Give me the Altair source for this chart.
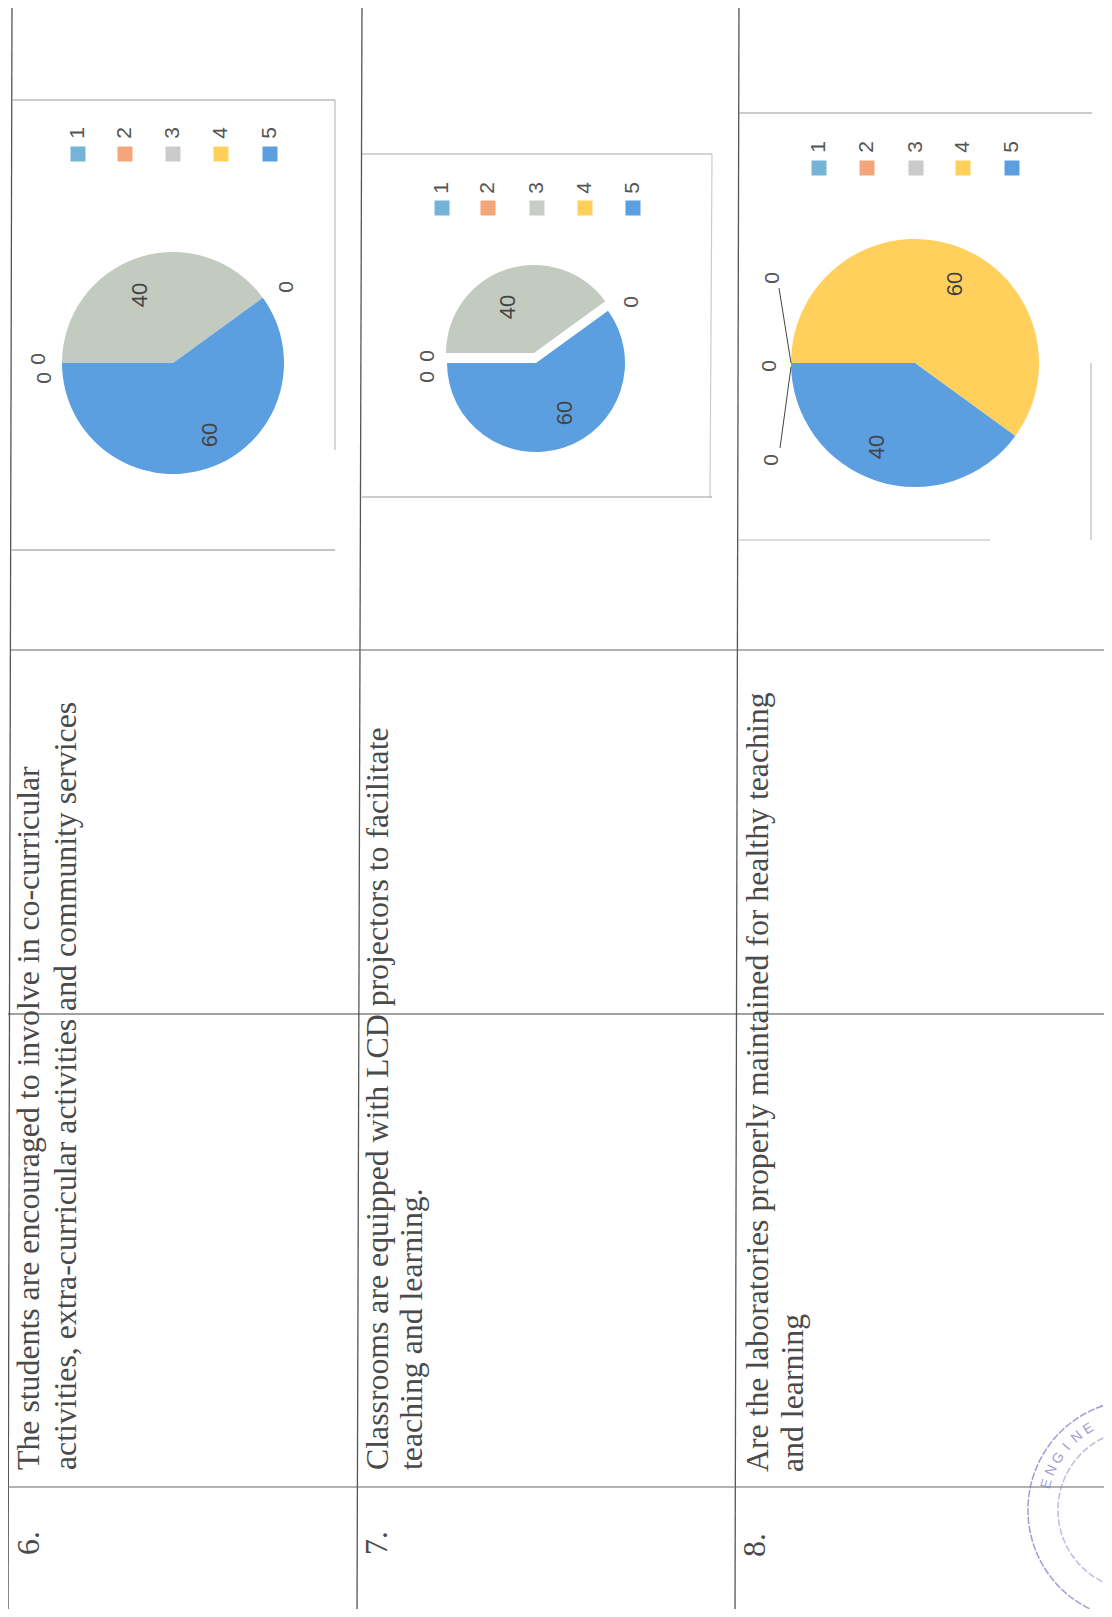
import math
import altair as alt
import pandas as pd

categories = ["1", "2", "3", "4", "5"]
legend_colors = ["#74B4D8", "#F4A57A", "#C9CCC9", "#FFD05A", "#5B9FE0"]
pie_colors = ["#74B4D8", "#F4A57A", "#C3CABF", "#FFD05C", "#5C9FE0"]
q6_values = [0, 0, 40, 0, 60]
q7_values = [0, 0, 40, 0, 60]
q8_values = [0, 0, 0, 60, 40]

q6_lines = ["The students are encouraged to involve in co-curricular",
            "activities, extra-curricular activities and community services"]
q7_lines = ["Classrooms are equipped with LCD projectors to facilitate",
            "teaching and learning."]
q8_lines = ["Are the laboratories properly maintained for healthy teaching",
            "and learning"]

M = 8  # page margin
one = alt.Data(values=[{"a": 1}])
layers = []


def line(x1, y1, x2, y2, color="#555555", w=1.2, **kw):
    layers.append(alt.Chart(one).mark_rule(color=color, strokeWidth=w, **kw).encode(
        x=alt.value(x1 - M), x2=alt.value(x2 - M),
        y=alt.value(y1 - M), y2=alt.value(y2 - M)))


def label(text, x, y, size=21, color="#555555", font="Liberation Sans",
          angle=270, align="center", baseline="middle", opacity=1.0):
    layers.append(alt.Chart(one).mark_text(
        text=text, font=font, fontSize=size, color=color, angle=angle,
        align=align, baseline=baseline, opacity=opacity).encode(
        x=alt.value(x - M), y=alt.value(y - M)))


def body(lines, xs, y, size):
    for t, x in zip(lines, xs):
        label(t, x, y, size=size, color="#4a4a4a", font="Liberation Serif",
              align="left", baseline="alphabetic")


def pie(values, cx, cy, r, only=None):
    df = pd.DataFrame({"category": categories, "value": values})
    theta = alt.Theta("value:Q", stack=True,
                      scale=alt.Scale(domain=[0, 100],
                                      range=[1.5 * math.pi, 3.5 * math.pi]))
    color = alt.Color("category:N", legend=None,
                      scale=alt.Scale(domain=categories, range=pie_colors))
    ch = alt.Chart(df).mark_arc(radius=r).encode(
        theta=theta, color=color, order=alt.Order("category:O"),
        x=alt.value(cx - M), y=alt.value(cy - M))
    if only is not None:
        ch = ch.encode(opacity=alt.condition(alt.datum.category == only,
                                             alt.value(1), alt.value(0)))
    layers.append(ch)


def legend(xs, swatch_y, label_y):
    for c, col, x in zip(categories, legend_colors, xs):
        layers.append(alt.Chart(one).mark_rect(fill=col).encode(
            x=alt.value(x - 7.5 - M), x2=alt.value(x + 7.5 - M),
            y=alt.value(swatch_y - 7.5 - M), y2=alt.value(swatch_y + 7.5 - M)))
        label(c, x, label_y)


# Table rules
line(12, 0, 8, 1617, w=1.3)
line(362, 0, 357, 1617, w=1.3)
line(739, 0, 735, 1617, w=1.3)
line(10, 650, 1112, 650, color="#666666")
line(0, 1014, 1112, 1014, color="#444444")
line(8, 1487, 1112, 1487, color="#666666")

# Chart frames
line(12, 100, 335, 100, color="#999999")
line(335, 100, 335, 450, color="#bbbbbb")
line(12, 550, 335, 550, color="#888888")
line(362, 154, 712, 154, color="#aaaaaa")
line(712, 154, 710, 497, color="#cccccc")
line(362, 497, 712, 497, color="#999999")
line(739, 113, 1092, 113, color="#999999")
line(1091, 363, 1091, 540, color="#bbbbbb")
line(739, 540, 990, 540, color="#bbbbbb")

# Question 6
pie(q6_values, 173, 363, 111)
legend([78, 125, 173, 221, 270], 154, 133)
label(str(q6_values[2]), 140, 295, size=22, color="#444444")
label(str(q6_values[4]), 210, 435, size=22, color="#444444")
label(str(q6_values[3]), 287, 287)
label(str(q6_values[0]), 39, 359)
label(str(q6_values[1]), 45, 378)

# Question 7 (exploded)
pie(q7_values, 534, 353, 88, only="3")
pie(q7_values, 536, 363, 89, only="5")
legend([442, 488, 537, 585, 633], 208, 188)
label(str(q7_values[2]), 508, 307, size=22, color="#444444")
label(str(q7_values[4]), 565, 413, size=22, color="#444444")
label(str(q7_values[3]), 632, 302)
label(str(q7_values[0]), 428, 356)
label(str(q7_values[1]), 428, 377)

# Question 8
pie(q8_values, 915, 363, 124)
legend([819, 867, 916, 963, 1012], 168, 147)
label(str(q8_values[3]), 955, 284, size=22, color="#444444")
label(str(q8_values[4]), 877, 447, size=22, color="#444444")
label(str(q8_values[0]), 773, 278)
label(str(q8_values[1]), 770, 366)
label(str(q8_values[2]), 772, 460)
line(779, 288, 791, 363, color="#444444", w=1)
line(791, 367, 780, 448, color="#444444", w=1)

# Question text
TS = 31.8
body(q6_lines, [39, 76], 1470, TS)
body(q7_lines, [388, 422], 1470, TS)
body(q8_lines, [768, 803], 1472, TS)
label("6.", 39, 1555, size=TS, color="#4a4a4a", font="Liberation Serif",
      align="left", baseline="alphabetic")
label("7.", 387, 1555, size=TS, color="#4a4a4a", font="Liberation Serif",
      align="left", baseline="alphabetic")
label("8.", 765, 1557, size=TS, color="#4a4a4a", font="Liberation Serif",
      align="left", baseline="alphabetic")

# Stamp
SX, SY = 1138, 1510
for r, dash, op in [(110, [7, 2], 0.8), (80, [4, 5], 0.55)]:
    layers.append(alt.Chart(one).mark_arc(
        radius=r, radius2=r, theta=0, theta2=2 * math.pi, fillOpacity=0,
        stroke="#8D86CC", strokeWidth=1.5, strokeDash=dash, opacity=op).encode(
        x=alt.value(SX - M), y=alt.value(SY - M)))
for i, ch in enumerate("ENGINE"):
    phi = 286 + i * 8.5
    rad = math.radians(phi)
    label(ch, SX + 95 * math.sin(rad), SY - 95 * math.cos(rad), size=14,
          color="#8D86CC", font="Liberation Sans", angle=phi, opacity=0.8)

chart = alt.layer(*layers).properties(
    width=1096, height=1601, padding=0,
    autosize=alt.AutoSizeParams(type="none"),
    background="#ffffff",
).configure_view(strokeWidth=0)

chart.save("out.html", embed_options={"renderer": "svg", "actions": False})
